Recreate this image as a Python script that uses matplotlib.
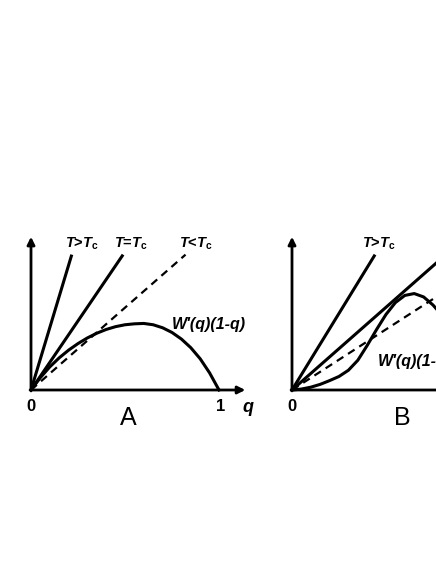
# Sketch of W'(q)(1-q) against straight lines for T above / at / below Tc
import matplotlib.pyplot as plt

plt.rcParams['font.family'] = ['Liberation Sans', 'DejaVu Sans']
plt.rcParams['mathtext.fontset'] = 'custom'
plt.rcParams['mathtext.it'] = 'Liberation Sans:bold:italic'
plt.rcParams['mathtext.rm'] = 'Liberation Sans:bold'
plt.rcParams['mathtext.bf'] = 'Liberation Sans:bold'

# panel A: curve W'(q)(1-q)
q_a = [0, 0.05, 0.1, 0.15, 0.2, 0.25, 0.3, 0.35, 0.4, 0.45, 0.5,
       0.55, 0.6, 0.65, 0.7, 0.75, 0.8, 0.85, 0.9, 0.95, 1.0]
w_a = [0, 0.066, 0.123, 0.171, 0.212, 0.247, 0.277, 0.302, 0.322, 0.337, 0.347,
       0.352, 0.354, 0.347, 0.331, 0.306, 0.271, 0.225, 0.166, 0.091, 0.0]
slopes_a = [3.32, 1.47, 0.876]
labels_a = [r'$T$>$T_{\rm c}$', r'$T$=$T_{\rm c}$', r'$T$<$T_{\rm c}$']
styles_a = ['-', '-', '--']
label_x_a = [0.271, 0.529, 0.875]

# panel B: S-shaped curve
q_b = [0, 0.05, 0.1, 0.15, 0.2, 0.25, 0.3, 0.35, 0.4, 0.45, 0.5,
       0.55, 0.6, 0.65, 0.7, 0.75, 0.8, 0.85, 0.9, 0.95, 1.0]
w_b = [0, 0.005, 0.015, 0.03, 0.05, 0.072, 0.105, 0.158, 0.237, 0.322, 0.402,
       0.465, 0.503, 0.513, 0.495, 0.452, 0.395, 0.32, 0.225, 0.115, 0]
slopes_b = [1.63, 0.88, 0.645]
labels_b = [r'$T$>$T_{\rm c}$', None, None]   # the other two fall outside the picture
styles_b = ['-', '-', '--']
label_x_b = [0.463, 0, 0]

W, H = 436, 564
fig = plt.figure(figsize=(W / 100, H / 100), dpi=100)

scale = 188.0  # pixels per data unit
xmax, ymax = 1.25, 0.9
top = 0.72


def panel(x0, q, w, slopes, labels, styles, label_x, name, wlabel_pos, show_one):
    ax = fig.add_axes([x0 / W, (H - 390) / H, xmax * scale / W, ymax * scale / H])
    ax.set_xlim(0, xmax)
    ax.set_ylim(0, ymax)
    ax.axis('off')
    arrow = dict(arrowstyle='-|>', lw=2, color='k', mutation_scale=11,
                 shrinkA=0, shrinkB=0)
    ax.annotate('', xy=(1.14, 0), xytext=(-0.005, 0), arrowprops=arrow)
    ax.annotate('', xy=(0, 0.815), xytext=(0, -0.005), arrowprops=arrow)
    for s, lab, ls, lx in zip(slopes, labels, styles, label_x):
        qe = top / s
        if ls == '--':
            ax.plot([0, qe], [0, top], color='k', lw=1.6, ls=(0, (3.5, 2.5)), clip_on=False)
        else:
            ax.plot([0, qe], [0, top], color='k', lw=2.2, clip_on=False,
                    solid_capstyle='butt')
        if lab:
            ax.text(lx, 0.78, lab, ha='center', va='center', fontsize=10.5,
                    fontweight='bold')
    ax.plot(q, w, color='k', lw=2.2, clip_on=False, solid_joinstyle='round')
    ax.text(wlabel_pos[0], wlabel_pos[1], "W'(q)(1-q)", ha='left', va='center',
            fontsize=11.5, fontweight='bold', fontstyle='italic')
    ax.text(0, -0.09, '0', ha='center', va='center', fontsize=12, fontweight='bold')
    if show_one:
        ax.text(1.01, -0.09, '1', ha='center', va='center', fontsize=12, fontweight='bold')
        ax.text(1.155, -0.095, 'q', ha='center', va='center', fontsize=13,
                fontweight='bold', fontstyle='italic')
    ax.text(name[1], -0.148, name[0], ha='center', va='center', fontsize=18)


panel(31, q_a, w_a, slopes_a, labels_a, styles_a, label_x_a, ('A', 0.516), (0.75, 0.346), True)
panel(292, q_b, w_b, slopes_b, labels_b, styles_b, label_x_b, ('B', 0.588), (0.457, 0.154), False)

fig.savefig('out.png', dpi=100)
